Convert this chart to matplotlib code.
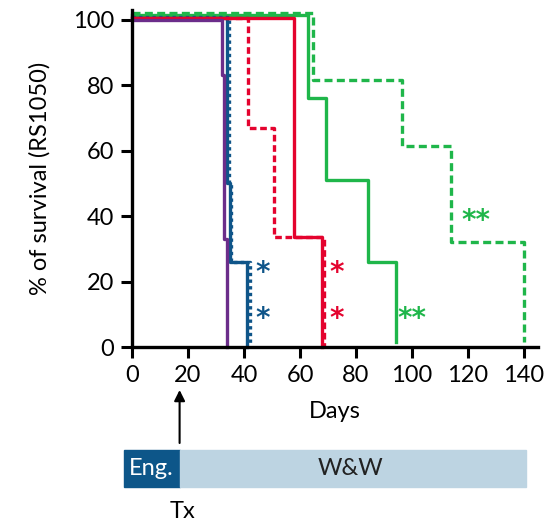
import matplotlib
matplotlib.use("Agg")
import matplotlib.pyplot as plt
from matplotlib.patches import Rectangle
from matplotlib.transforms import blended_transform_factory

plt.rcParams['font.family'] = ['Lato', 'DejaVu Sans']

# survival curves (days where survival changes, % survival after that day)
purple_days = [0, 32, 33, 34]
purple_surv = [100, 83, 33, 0]

blue_days = [0, 34, 35, 41]
blue_surv = [100.5, 50, 26, 0]
blue_dot_days = [0, 34.5, 35.5, 42]
blue_dot_surv = [101, 50, 26, 0]

red_days = [0, 58, 68]
red_surv = [100.5, 33.5, 0]
red_dot_days = [0, 41.3, 50.7, 68.6]
red_dot_surv = [100.5, 67, 33.5, 0]

green_days = [0, 62.7, 69.3, 84.2, 94.2]
green_surv = [101.5, 76, 51, 26, 1.5]
green_dot_days = [0, 64.7, 96.3, 114, 140]
green_dot_surv = [102, 81.5, 61.5, 32, 1.5]

# significance marks: (day, survival, text, colour)
stars = [(46.5, 24, "*", "blue"), (46.5, 10, "*", "blue"),
         (73, 24, "*", "red"), (73, 10, "*", "red"),
         (100, 10, "**", "green"), (123, 40, "**", "green")]

xticks = [0, 20, 40, 60, 80, 100, 120, 140]
yticks = [0, 20, 40, 60, 80, 100]

colors = {"purple": "#6b2d8a", "blue": "#0f5589", "red": "#e4032e", "green": "#1fb64a"}

fig = plt.figure(figsize=(5.51, 5.24), dpi=100)
ax = fig.add_axes([132 / 551, 177 / 524, 406 / 551, 337 / 524])

lw = 2.4
ax.step(green_dot_days, green_dot_surv, where='post', color=colors["green"], lw=lw, dashes=(2.4, 1.3), clip_on=False)
ax.step(green_days, green_surv, where='post', color=colors["green"], lw=lw, clip_on=False)
ax.step(blue_dot_days, blue_dot_surv, where='post', color=colors["blue"], lw=lw, dashes=(1.0, 1.0), clip_on=False)
ax.step(blue_days, blue_surv, where='post', color=colors["blue"], lw=lw, clip_on=False)
ax.step(red_dot_days, red_dot_surv, where='post', color=colors["red"], lw=lw, dashes=(2.0, 1.1), clip_on=False)
ax.step(red_days, red_surv, where='post', color=colors["red"], lw=lw, clip_on=False)
ax.step(purple_days, purple_surv, where='post', color=colors["purple"], lw=lw, clip_on=False)

for x, y, s, c in stars:
    ax.text(x, y - 1.5, s, color=colors[c], fontsize=20, fontweight='bold', ha='center', va='center',
            family='DejaVu Sans')

ax.set_xlim(0, 145)
ax.set_ylim(0, 103)
ax.set_xticks(xticks)
ax.set_yticks(yticks)
ax.tick_params(direction='out', length=8, width=2.2, labelsize=17, pad=5)
for side in ["top", "right"]:
    ax.spines[side].set_visible(False)
for side in ["left", "bottom"]:
    ax.spines[side].set_linewidth(2.4)
ax.set_xlabel("Days", fontsize=17, labelpad=11)
ax.set_ylabel("% of survival (RS1050)", fontsize=17, labelpad=16)

# treatment bar below the axis
bar = fig.add_axes([132 / 551, 37 / 524, 406 / 551, 37 / 524])
bar.set_xlim(0, 145)
bar.set_ylim(0, 1)
bar.axis('off')
bar.add_patch(Rectangle((-3, 0), 20, 1, color="#0d5689", clip_on=False))
bar.add_patch(Rectangle((17, 0), 123.7, 1, color="#bdd4e2", clip_on=False))
bar.text(7, 0.5, "Eng.", color="white", fontsize=17, ha='center', va='center')
bar.text(78, 0.5, "W&W", color="#222222", fontsize=17, ha='center', va='center')

ax.annotate("", xy=(17, 134 / 524), xycoords=('data', 'figure fraction'),
            xytext=(17, 81 / 524), textcoords=('data', 'figure fraction'),
            arrowprops=dict(arrowstyle='-|>', color='black', lw=1.5, mutation_scale=16,
                            shrinkA=0, shrinkB=0))
ax.text(18, 13 / 524, "Tx", transform=blended_transform_factory(ax.transData, fig.transFigure),
        fontsize=17, ha='center', va='center')

fig.savefig("out.png", dpi=100)
